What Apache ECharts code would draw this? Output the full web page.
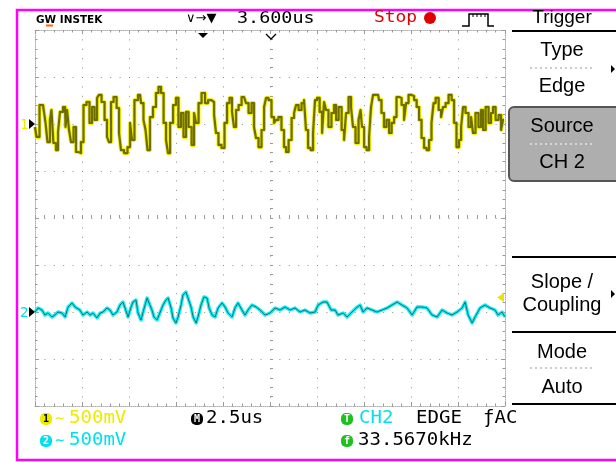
<!DOCTYPE html>
<html>
<head>
<meta charset="utf-8">
<script src="https://cdn.jsdelivr.net/npm/echarts@6/dist/echarts.min.js"></script>
<style>
  html, body { margin: 0; padding: 0; background: #fff; }
  #main { width: 616px; height: 462px; }
</style>
</head>
<body>
<div id="main"></div>
<script>
// scope settings
const timePerDiv = 2.5;   // us
const voltsPerDiv = 500;  // mV, both channels
const ch1Offset = 2;      // divisions above screen centre
const ch2Offset = -2;     // divisions below screen centre

// CH1 trace: time from left edge of screen (us) and voltage (mV)
const ch1Time = [
  0.00, 0.16, 0.32, 0.53, 0.59, 0.74, 0.85, 0.90, 1.06, 1.17,
  1.28, 1.38, 1.60, 1.65, 1.76, 1.86, 1.97, 2.13, 2.23, 2.39,
  2.50, 2.66, 2.82, 2.98, 3.09, 3.25, 3.35, 3.46, 3.62, 3.78,
  3.88, 3.99, 4.10, 4.26, 4.42, 4.52, 4.63, 4.84, 5.00, 5.11,
  5.21, 5.37, 5.59, 5.69, 5.85, 5.91, 6.06, 6.17, 6.38, 6.49,
  6.65, 6.76, 6.92, 7.02, 7.13, 7.24, 7.45, 7.55, 7.71, 7.82,
  7.98, 8.09, 8.25, 8.41, 8.51, 8.62, 8.78, 8.94, 9.15, 9.26,
  9.47, 9.58, 9.68, 9.84, 10.00, 10.16, 10.27, 10.43, 10.53, 10.64,
  10.75, 10.91, 11.07, 11.17, 11.28, 11.44, 11.60, 11.70, 11.81, 11.97,
  12.13, 12.24, 12.34, 12.50, 12.66, 12.77, 12.87, 13.03, 13.19, 13.30,
  13.41, 13.57, 13.73, 13.83, 13.94, 14.10, 14.26, 14.36, 14.47, 14.58,
  14.74, 14.84, 14.95, 15.06, 15.22, 15.32, 15.43, 15.53, 15.69, 15.85,
  15.96, 16.07, 16.23, 16.39, 16.49, 16.60, 16.76, 16.86, 16.97, 17.13,
  17.29, 17.34, 17.45, 17.56, 17.72, 17.82, 17.93, 18.03, 18.25, 18.35,
  18.51, 18.62, 18.78, 18.89, 19.05, 19.15, 19.31, 19.42, 19.58, 19.68,
  19.79, 19.95, 20.11, 20.22, 20.38, 20.48, 20.64, 20.75, 20.91, 21.01,
  21.17, 21.23, 21.39, 21.55, 21.65, 21.76, 21.92, 22.08, 22.24, 22.34,
  22.50, 22.61, 22.72, 22.82, 22.98, 23.14, 23.25, 23.35, 23.51, 23.67,
  23.78, 23.89, 24.05, 24.20, 24.31, 24.42, 24.58, 24.74, 24.84, 24.95
];
const ch1Volt = [
  -32, -138, 202, 181, 11, -192, 43, 149, -202, -277,
  -85, 128, 181, -32, 149, -64, -192, -32, -298, -309,
  -192, 202, 234, 11, 181, 43, 277, 309, 234, 43,
  -138, -192, 234, 287, 170, -96, -277, -309, -245, 11,
  -170, 255, 309, 223, 43, -64, -277, 74, 181, 330,
  394, 330, 11, -170, -309, 11, 202, 277, -32, 117,
  -138, 128, -32, -223, 117, 11, 223, 330, 223, 255,
  234, 96, -96, -223, -255, 11, 223, 277, 128, -32,
  149, 202, 287, 277, 223, 117, 223, -32, -149, -245,
  -64, 181, 277, 255, 74, 11, 43, 74, -64, -245,
  -298, -170, 64, 117, 202, 149, 223, 255, -64, -255,
  -277, -96, 255, 277, 128, -96, 234, 149, -32, 117,
  202, 43, 181, -64, -170, 117, 287, 181, -32, -202,
  43, 149, -32, -245, -277, -138, 181, 309, 309, 255,
  117, -32, 43, -96, 11, 74, 287, 277, 202, 43,
  223, 309, 298, 255, 181, 43, -149, -255, -277, -170,
  11, 223, 277, 149, 74, 181, 223, 309, 255, 11,
  -245, -170, -32, 181, 117, -32, 74, -96, 117, -32,
  149, -64, 181, 11, 117, 181, 43, 96, -64, 43
];

// CH2 trace
const ch2Time = [
  0.00, 0.16, 0.37, 0.53, 0.69, 0.90, 1.06, 1.22, 1.44, 1.60,
  1.76, 1.97, 2.13, 2.23, 2.39, 2.55, 2.77, 2.93, 3.09, 3.30,
  3.46, 3.62, 3.83, 3.99, 4.15, 4.36, 4.52, 4.68, 4.79, 4.95,
  5.11, 5.21, 5.37, 5.48, 5.64, 5.75, 5.96, 6.06, 6.22, 6.33,
  6.49, 6.60, 6.81, 6.97, 7.08, 7.24, 7.34, 7.50, 7.61, 7.77,
  7.87, 8.03, 8.14, 8.30, 8.41, 8.57, 8.67, 8.83, 8.99, 9.15,
  9.26, 9.42, 9.58, 9.74, 9.95, 10.11, 10.27, 10.48, 10.64, 10.80,
  11.01, 11.17, 11.33, 11.54, 11.76, 11.97, 12.24, 12.50, 12.77, 13.03,
  13.30, 13.57, 13.83, 14.10, 14.36, 14.63, 14.90, 15.06, 15.32, 15.53,
  15.75, 15.96, 16.12, 16.39, 16.60, 16.86, 17.08, 17.29, 17.45, 17.66,
  17.93, 18.19, 18.46, 18.73, 18.99, 19.26, 19.52, 19.79, 20.06, 20.32,
  20.59, 20.85, 21.12, 21.39, 21.65, 21.92, 22.18, 22.45, 22.72, 22.88,
  23.04, 23.25, 23.41, 23.67, 23.94, 24.20, 24.47, 24.63, 24.84, 25.00
];
const ch2Volt = [
  0, 43, 21, -32, -11, -53, -32, 0, -11, -53,
  53, 96, 53, 74, 21, -32, 0, -32, -11, -64,
  -11, 0, 43, 21, -32, 0, 74, 106, 43, -53,
  53, 106, 128, -11, -85, 0, 149, 128, 21, -53,
  -85, -32, 74, 128, 149, 43, -64, -117, -53, 74,
  181, 213, 149, 53, -53, -117, -53, 74, 160, 149,
  43, -32, -53, 43, 96, 53, -11, -53, 43, 96,
  21, -32, 21, 74, 53, 21, -32, -11, 43, 21,
  53, 21, 43, 0, 21, -11, 0, 74, 106, 106,
  21, 21, -32, -11, -53, 0, 43, 74, 0, 43,
  21, 0, 21, 43, 74, 106, 74, 43, -32, 53,
  53, 43, -32, -53, 21, -11, -32, 0, 43, 106,
  -32, -117, -53, 43, 74, 43, 21, -32, 0, -53
];

const halfScreen = 5 * timePerDiv; // screen is 10 divisions wide, centred on 0

function toPoints(times, mv, offset) {
  return times.map((t, i) => [t - halfScreen, mv[i] / voltsPerDiv + offset]);
}

const mono = '"DejaVu Sans Mono", monospace';
const sans = '"Liberation Sans", Arial, sans-serif';
const tickColor = '#9a9a9a';

function axis(position, extra) {
  const isX = position === 'top' || position === 'bottom';
  return Object.assign({
    type: 'value',
    position: position,
    min: isX ? -halfScreen : -4,
    max: isX ? halfScreen : 4,
    interval: isX ? timePerDiv : 1,
    axisLine: { show: true, onZero: false, lineStyle: { color: '#b0b0b0', width: 1, type: [1, 1] } },
    axisTick: { show: true, inside: true, length: 4, lineStyle: { color: tickColor } },
    minorTick: { show: true, splitNumber: 5, length: 2.5, lineStyle: { color: tickColor } },
    axisLabel: { show: false },
    splitLine: { show: false }
  }, extra || {});
}

const dotted = { show: true, lineStyle: { color: '#8c8c8c', width: 1, type: [1, 8.4] } };
const centreLine = {
  axisLine: { show: false, onZero: true, onZeroAxisIndex: 0 },
  axisTick: { show: true, inside: true, length: 3, lineStyle: { color: tickColor } },
  minorTick: { show: true, splitNumber: 5, length: 3, lineStyle: { color: tickColor } }
};

// text helper for the scope's screen lettering
function txt(x, y, s, fill, font, align, scaleX) {
  return {
    type: 'text', x: x, y: y, scaleX: scaleX || 1, z: 10,
    style: { text: s, fill: fill, font: font, align: align || 'left', verticalAlign: 'middle' }
  };
}
function line(x1, y1, x2, y2, color, width, dash) {
  return {
    type: 'line', z: 10,
    shape: { x1: x1, y1: y1, x2: x2, y2: y2 },
    style: { stroke: color, lineWidth: width || 1, lineDash: dash || null }
  };
}
function tri(points, color) {
  return { type: 'polygon', z: 12, shape: { points: points }, style: { fill: color } };
}
function badge(x, y, s, bg, fg) {
  return {
    type: 'group', x: x, y: y, z: 10,
    children: [
      { type: 'rect', shape: { x: -6, y: -6, width: 12, height: 12, r: 5 }, style: { fill: bg } },
      { type: 'text', style: { text: s, x: 0, y: 0.5, fill: fg, font: 'bold 10px ' + mono, align: 'center', verticalAlign: 'middle' } }
    ]
  };
}

const yellow = '#ecec00';
const cyan = '#00e0ee';
const green = '#20c020';

const graphics = [
  // frame
  { type: 'rect', z: 5, shape: { x: 17, y: 10, width: 610, height: 450 }, style: { fill: null, stroke: '#f0f', lineWidth: 2.5 } },
  // header
  txt(36, 20, 'GW INSTEK', '#000', 'bold 11px "DejaVu Sans", sans-serif', 'left', 0.95),
  line(46, 25.5, 53, 25.5, '#ff6600', 2),
  txt(186, 19, '\u2228\u2192\u25BC', '#000', '13px "DejaVu Sans", sans-serif'),
  txt(237, 19, '3.600us', '#000', '16px ' + mono, 'left', 1.15),
  txt(374, 18, 'Stop', '#e00000', '16px ' + mono, 'left', 1.12),
  { type: 'circle', z: 10, shape: { cx: 430, cy: 18, r: 6 }, style: { fill: '#e00000' } },
  { type: 'polyline', z: 10, shape: { points: [[462, 26], [469, 26], [469, 14], [488, 14], [488, 26], [494, 26]] }, style: { stroke: '#000', lineWidth: 1.5, fill: null } },
  line(473, 14, 473, 17, '#000', 1), line(477, 14, 477, 17, '#000', 1),
  line(481, 14, 481, 17, '#000', 1), line(485, 14, 485, 17, '#000', 1),
  // screen markers
  tri([[198, 33], [208, 33], [203, 38]], '#000'),
  { type: 'polyline', z: 12, shape: { points: [[266, 34], [271, 39], [276, 34]] }, style: { stroke: '#000', lineWidth: 1.3, fill: null } },
  txt(20, 125, '1', yellow, '14px ' + mono),
  tri([[29, 119], [35, 124], [29, 129]], '#000'),
  txt(20, 313, '2', cyan, '14px ' + mono),
  tri([[29, 307], [35, 312], [29, 317]], '#000'),
  tri([[504, 293], [504, 302], [497, 297.5]], '#f0e000'),
  // trigger menu
  txt(562, 18, 'Trigger', '#000', '19px ' + sans, 'center'),
  line(512, 31, 616, 31, '#000', 2),
  txt(562, 50, 'Type', '#000', '20px ' + sans, 'center'),
  line(530, 68, 594, 68, '#999', 1, [2, 3]),
  txt(562, 86, 'Edge', '#000', '20px ' + sans, 'center'),
  tri([[611, 65], [615, 69], [611, 73]], '#000'),
  { type: 'rect', z: 9, shape: { x: 509, y: 107, width: 115, height: 74, r: 5 }, style: { fill: '#aeaeae', stroke: '#555', lineWidth: 2 } },
  txt(562, 126, 'Source', '#000', '20px ' + sans, 'center'),
  line(530, 144, 594, 144, '#fff', 1, [2, 3]),
  txt(562, 162, 'CH 2', '#000', '20px ' + sans, 'center'),
  line(512, 257, 616, 257, '#000', 2),
  txt(562, 282, 'Slope /', '#000', '20px ' + sans, 'center'),
  txt(562, 305, 'Coupling', '#000', '20px ' + sans, 'center'),
  tri([[611, 290], [615, 294], [611, 298]], '#000'),
  line(512, 332, 616, 332, '#000', 2),
  txt(562, 352, 'Mode', '#000', '20px ' + sans, 'center'),
  line(530, 368, 594, 368, '#999', 1, [2, 3]),
  txt(562, 387, 'Auto', '#000', '20px ' + sans, 'center'),
  line(512, 404, 616, 404, '#000', 2),
  // status bar
  badge(46, 419, '1', yellow, '#000'),
  txt(55, 419, '\u223C', yellow, '15px ' + mono),
  txt(69, 419, '500mV', yellow, '17px ' + mono, 'left', 1.12),
  badge(197, 419, 'M', '#000', '#fff'),
  txt(206, 419, '2.5us', '#000', '17px ' + mono, 'left', 1.12),
  badge(347, 419, 'T', green, '#fff'),
  txt(359, 419, 'CH2', cyan, '17px ' + mono, 'left', 1.12),
  txt(416, 419, 'EDGE', '#000', '17px ' + mono, 'left', 1.12),
  txt(483, 419, '\u0192AC', '#000', '17px ' + mono, 'left', 1.12),
  badge(46, 441, '2', cyan, '#fff'),
  txt(55, 441, '\u223C', cyan, '15px ' + mono),
  txt(69, 441, '500mV', cyan, '17px ' + mono, 'left', 1.12),
  badge(347, 441, 'f', green, '#fff'),
  txt(358, 441, '33.5670kHz', '#000', '17px ' + mono, 'left', 1.12)
];

function traceSeries(data, glow, core, glowWidth, coreWidth, step) {
  return [
    { type: 'line', data: data, step: step, showSymbol: false, silent: true, clip: true, z: 3,
      lineStyle: { color: glow, width: glowWidth, join: 'round' } },
    { type: 'line', data: data, step: step, showSymbol: false, silent: true, clip: true, z: 4,
      lineStyle: { color: core, width: coreWidth, join: 'round' } }
  ];
}

const options = {
  animation: false,
  backgroundColor: '#fff',
  grid: { left: 35, top: 30, width: 470, height: 376 },
  xAxis: [
    axis('bottom', { splitLine: dotted }),
    axis('top'),
    axis('bottom', centreLine)
  ],
  yAxis: [
    axis('left', { splitLine: dotted }),
    axis('right'),
    axis('left', centreLine)
  ],
  series: [].concat(
    traceSeries(toPoints(ch1Time, ch1Volt, ch1Offset), '#f4f400', '#6f6c00', 4, 2.2, 'middle'),
    traceSeries(toPoints(ch2Time, ch2Volt, ch2Offset), '#12eef6', '#1b7272', 3.4, 1, false)
  ),
  graphic: graphics
};

let myChart = echarts.init(document.getElementById('main'));
myChart.setOption(options);
</script>
</body>
</html>
